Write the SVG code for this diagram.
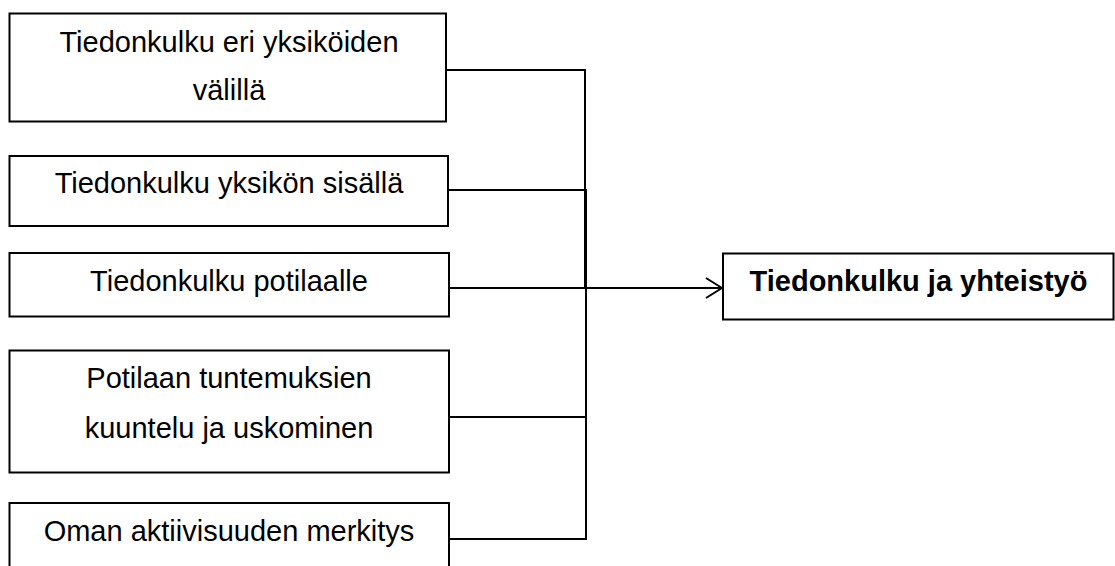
<svg xmlns="http://www.w3.org/2000/svg" width="1115" height="566" viewBox="0 0 1115 566">
  <style>
    .box { fill: #ffffff; stroke: #000000; stroke-width: 2; }
    .lbl { font-family: "Liberation Sans", Arial, sans-serif; font-size: 29px; fill: #000000; text-anchor: middle; }
    .bold { font-weight: bold; }
    .conn { fill: none; stroke: #000000; stroke-width: 2; }
  </style>
  <defs>
    <marker id="arrow" viewBox="0 0 18 22" refX="17" refY="11" markerWidth="18" markerHeight="22" markerUnits="userSpaceOnUse" orient="auto">
      <path d="M1,1 L17,11 L1,21" fill="none" stroke="#000000" stroke-width="2"/>
    </marker>
  </defs>
  <rect width="1115" height="566" fill="#ffffff"/>

  <g id="connectors">
    <path class="conn" d="M446 70 H585 V288"/>
    <path class="conn" d="M448 190 H586 V288"/>
    <path class="conn" d="M449 417 H586 V288"/>
    <path class="conn" d="M449 539 H586 V288"/>
    <path class="conn" d="M449 288 H722" marker-end="url(#arrow)"/>
  </g>

  <g id="node1">
    <rect class="box" x="9.5" y="13.5" width="436.5" height="108"/>
    <text class="lbl" x="229" y="52">Tiedonkulku eri yksiköiden</text>
    <text class="lbl" x="229" y="100">välillä</text>
  </g>
  <g id="node2">
    <rect class="box" x="9.5" y="156" width="438.5" height="70"/>
    <text class="lbl" x="229" y="193">Tiedonkulku yksikön sisällä</text>
  </g>
  <g id="node3">
    <rect class="box" x="9.5" y="253" width="439.5" height="63.5"/>
    <text class="lbl" x="229" y="291">Tiedonkulku potilaalle</text>
  </g>
  <g id="node4">
    <rect class="box" x="9.5" y="350.5" width="439.5" height="122"/>
    <text class="lbl" x="229" y="388">Potilaan tuntemuksien</text>
    <text class="lbl" x="229" y="438">kuuntelu ja uskominen</text>
  </g>
  <g id="node5">
    <rect class="box" x="9.5" y="503" width="439.5" height="80"/>
    <text class="lbl" x="229" y="541">Oman aktiivisuuden merkitys</text>
  </g>
  <g id="target">
    <rect class="box" x="723" y="253.5" width="390.5" height="66"/>
    <text class="lbl bold" x="918.5" y="291">Tiedonkulku ja yhteistyö</text>
  </g>
</svg>
